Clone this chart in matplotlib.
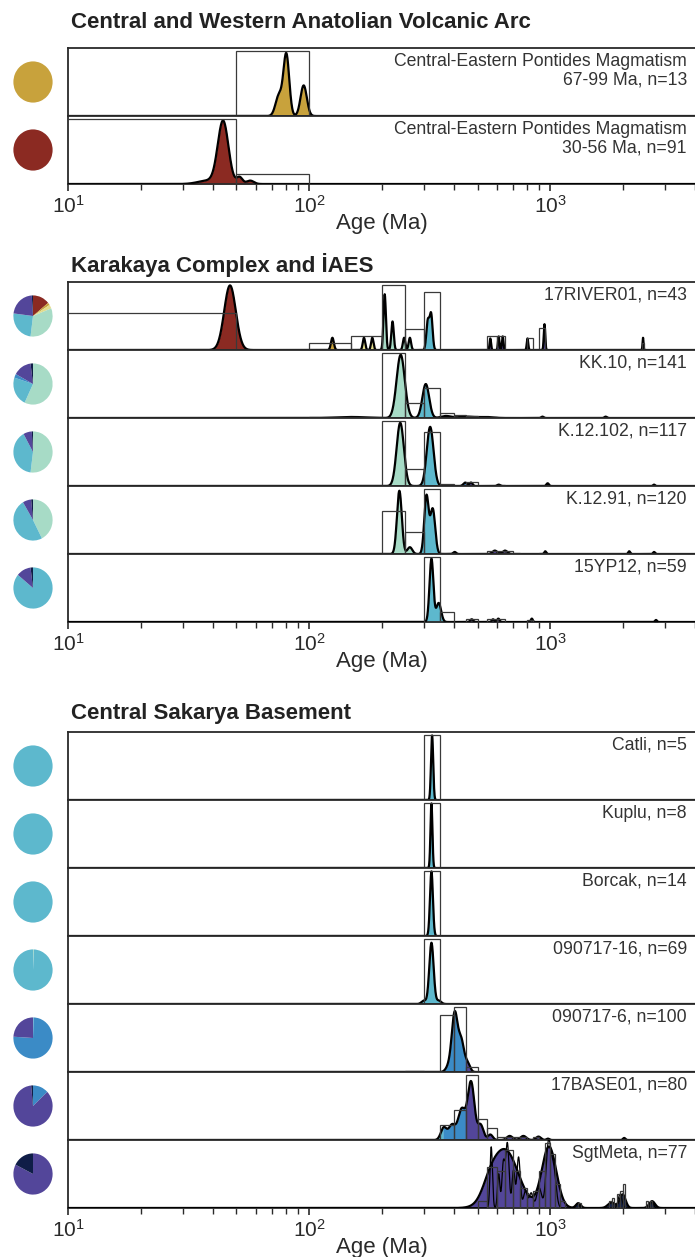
import numpy as np
import matplotlib.pyplot as plt
from matplotlib.ticker import LogLocator, NullFormatter

plt.rcParams['font.family'] = ['Liberation Sans', 'DejaVu Sans']
plt.rcParams['mathtext.default'] = 'regular'

W, H = 695, 1257
X_MAX = 4000

# --- groups ---
group_titles = ['Central and Western Anatolian Volcanic Arc',
                'Karakaya Complex and İAES',
                'Central Sakarya Basement']
group_sizes = [2, 5, 7]

# --- samples (top to bottom) ---
labels = ['Central-Eastern Pontides Magmatism\n67-99 Ma, n=13',
          'Central-Eastern Pontides Magmatism\n30-56 Ma, n=91',
          '17RIVER01, n=43', 'KK.10, n=141', 'K.12.102, n=117', 'K.12.91, n=120', '15YP12, n=59',
          'Catli, n=5', 'Kuplu, n=8', 'Borcak, n=14', '090717-16, n=69', '090717-6, n=100',
          '17BASE01, n=80', 'SgtMeta, n=77']

# age bands used for colouring the density curves and pies
band_edges = [0, 60, 150, 200, 280, 360, 445, 1200, 10000]
band_colors = ['#8B2A22', '#C8A23C', '#E2DC8C', '#A7DBC6', '#5DB8CD', '#3B8BC6', '#53469A', '#0F1D47']

# pie fractions (%) per band
pie_fracs = [
    [0, 100, 0, 0, 0, 0, 0, 0],
    [100, 0, 0, 0, 0, 0, 0, 0],
    [14, 2, 3, 33, 25, 0, 22, 1],
    [0, 0, 0, 57, 23, 3, 15, 2],
    [0, 0, 0, 52, 40, 0, 7, 1],
    [0, 0, 0, 42.5, 49, 0, 7, 1.5],
    [0, 0, 0, 0, 86, 0, 12, 2],
    [0, 0, 0, 0, 100, 0, 0, 0],
    [0, 0, 0, 0, 100, 0, 0, 0],
    [0, 0, 0, 0, 100, 0, 0, 0],
    [0, 0, 0, 0.7, 99.3, 0, 0, 0],
    [0, 0, 0, 0, 0.5, 75.5, 24, 0],
    [0, 0, 0, 0, 0, 13, 85.5, 1.5],
    [0, 0, 0, 0, 0, 0, 82.5, 17.5],
]

# KDE peaks: age (Ma), relative height, width (log10 units)
peak_ages = [
    [75, 80.5, 95],
    [38, 44, 51.5, 57],
    [47, 125, 169, 183, 206, 222, 248, 262, 311, 321, 565, 612, 636, 806, 948, 2430],
    [150, 240, 305, 370, 450, 540, 930, 1700],
    [239, 318, 445, 470, 612, 977, 2700],
    [237, 262, 307, 326, 402, 590, 650, 955, 2130, 2700],
    [322, 345, 473, 580, 610, 840, 2750],
    [324],
    [322],
    [322],
    [300, 322, 345],
    [380, 402, 428, 455],
    [362, 392, 430, 470, 515, 565, 680, 775, 895, 980, 2030],
    [560, 650, 990, 1310, 1800, 2000, 2650],
]
peak_heights = [
    [0.3, 0.9, 0.45],
    [0.05, 0.92, 0.1, 0.05],
    [0.95, 0.18, 0.18, 0.18, 0.82, 0.42, 0.18, 0.18, 0.42, 0.52, 0.17, 0.2, 0.2, 0.17, 0.38, 0.18],
    [0.015, 0.93, 0.5, 0.03, 0.02, 0.015, 0.02, 0.02],
    [0.93, 0.87, 0.05, 0.05, 0.02, 0.04, 0.02],
    [0.93, 0.1, 0.85, 0.66, 0.03, 0.05, 0.05, 0.04, 0.04, 0.03],
    [0.93, 0.28, 0.04, 0.04, 0.05, 0.05, 0.03],
    [0.95],
    [0.95],
    [0.95],
    [0.05, 0.9, 0.05],
    [0.08, 0.85, 0.45, 0.12],
    [0.18, 0.22, 0.45, 0.85, 0.22, 0.08, 0.06, 0.06, 0.05, 0.02, 0.03],
    [0.15, 0.85, 0.9, 0.07, 0.08, 0.2, 0.1],
]
peak_widths = [
    [0.014, 0.012, 0.013],
    [0.04, 0.022, 0.012, 0.015],
    [0.024, 0.006, 0.005, 0.005, 0.005, 0.005, 0.005, 0.005, 0.006, 0.006, 0.003, 0.003, 0.003, 0.003, 0.003, 0.002],
    [0.06, 0.017, 0.014, 0.02, 0.03, 0.03, 0.005, 0.005],
    [0.015, 0.014, 0.008, 0.006, 0.006, 0.005, 0.004],
    [0.01, 0.01, 0.009, 0.01, 0.006, 0.01, 0.01, 0.004, 0.004, 0.004],
    [0.008, 0.01, 0.006, 0.005, 0.005, 0.004, 0.004],
    [0.0045],
    [0.004],
    [0.006],
    [0.01, 0.009, 0.01],
    [0.012, 0.012, 0.012, 0.01],
    [0.012, 0.014, 0.015, 0.014, 0.012, 0.01, 0.012, 0.012, 0.01, 0.006, 0.005],
    [0.03, 0.055, 0.03, 0.01, 0.015, 0.012, 0.012],
]

# PDP (thin line) peaks, only where clearly visible
pdp_ages = [[], [], [], [], [], [], [], [], [], [], [], [], [],
            [570, 612, 640, 665, 705, 740, 790, 835, 900, 985, 1035, 1300, 1950, 2650]]
pdp_heights = [[], [], [], [], [], [], [], [], [], [], [], [], [],
               [0.9, 0.5, 0.65, 0.95, 0.55, 0.75, 0.25, 0.22, 0.3, 0.95, 0.55, 0.07, 0.2, 0.1]]
pdp_widths = [[], [], [], [], [], [], [], [], [], [], [], [], [],
              [0.005, 0.005, 0.006, 0.007, 0.006, 0.007, 0.008, 0.008, 0.01, 0.01, 0.01, 0.006, 0.008, 0.006]]

# histogram: left edge of 50 Ma bins and relative bar heights
hist_left = [
    [50],
    [0, 50],
    [0, 100, 150, 200, 250, 300, 550, 600, 800, 900, 2400],
    [100, 150, 200, 250, 300, 350, 400, 450, 500, 550, 900],
    [200, 250, 300, 350, 450, 600],
    [200, 250, 300, 350, 550, 600, 650, 700, 900, 2100],
    [300, 350, 450, 550, 600, 800],
    [300],
    [300],
    [300],
    [300],
    [250, 350, 400, 450],
    [350, 400, 450, 500, 550, 600, 650, 700, 750, 850, 2000],
    [500, 550, 600, 650, 700, 750, 800, 850, 900, 950, 1000, 1050, 1100, 1300, 1750, 1800, 1900, 1950, 2000, 2500, 2600],
]
hist_height = [
    [0.96],
    [0.96, 0.15],
    [0.54, 0.11, 0.21, 0.96, 0.31, 0.86, 0.2, 0.2, 0.17, 0.33, 0.1],
    [0.02, 0.02, 0.95, 0.22, 0.44, 0.07, 0.04, 0.03, 0.02, 0.02, 0.01],
    [0.96, 0.25, 0.79, 0.03, 0.06, 0.02],
    [0.63, 0.32, 0.95, 0.02, 0.04, 0.05, 0.05, 0.02, 0.02, 0.02],
    [0.96, 0.14, 0.05, 0.04, 0.05, 0.03],
    [0.96],
    [0.96],
    [0.96],
    [0.95],
    [0.01, 0.84, 0.96, 0.07],
    [0.22, 0.44, 0.95, 0.31, 0.18, 0.04, 0.04, 0.04, 0.04, 0.04, 0.02],
    [0.1, 0.6, 0.55, 0.85, 0.55, 0.3, 0.2, 0.25, 0.55, 0.95, 0.8, 0.35, 0.1, 0.07, 0.1, 0.15, 0.2, 0.25, 0.35, 0.1, 0.1],
]
BIN = 50

# --- layout (pixels) ---
group_top = [48, 282, 732]
title_y = [23, 265, 713]
PANEL_H = 68
AX_L, AX_R = 68, 695.2

fig = plt.figure(figsize=(W / 100, H / 100), dpi=100)


def axes_px(x0, y0, w, h):
    return fig.add_axes([x0 / W, 1 - (y0 + h) / H, w / W, h / H])


x = np.logspace(1, np.log10(X_MAX), 5000)
lx = np.log10(x)


def density(ages, heights, widths):
    y = np.zeros_like(lx)
    for a, h, s in zip(ages, heights, widths):
        y += h * np.exp(-0.5 * ((lx - np.log10(a)) / s) ** 2)
    return y


idx = 0
for g, (title, n) in enumerate(zip(group_titles, group_sizes)):
    fig.text(71 / W, 1 - title_y[g] / H, title, fontsize=16, fontweight='bold',
             color='#222222', ha='left', va='center')
    for k in range(n):
        top = group_top[g] + k * PANEL_H
        ax = axes_px(AX_L, top, AX_R - AX_L, PANEL_H)
        ax.set_xscale('log')
        ax.set_xlim(10, X_MAX)
        ax.set_ylim(0, 1)

        y = density(peak_ages[idx], peak_heights[idx], peak_widths[idx])
        for lo, hi, c in zip(band_edges[:-1], band_edges[1:], band_colors):
            m = (x >= lo * 0.998) & (x <= hi * 1.002)
            ax.fill_between(x, 0, y, where=m, color=c, lw=0, zorder=2)
        ax.plot(x, y, color='black', lw=1.6, zorder=3)
        if pdp_ages[idx]:
            yp = density(pdp_ages[idx], pdp_heights[idx], pdp_widths[idx])
            ax.plot(x, yp, color='black', lw=0.9, zorder=3)

        lefts = np.maximum(np.array(hist_left[idx], dtype=float), 1)
        rights = np.array(hist_left[idx], dtype=float) + BIN
        ax.bar(lefts, hist_height[idx], width=rights - lefts, align='edge', fill=False,
               edgecolor='#3a3a3a', lw=0.9, zorder=4)

        for s in ax.spines.values():
            s.set_linewidth(1.3)
            s.set_color('#2a2a2a')
        ax.spines['right'].set_visible(False)
        ax.set_yticks([])
        ax.xaxis.set_major_locator(LogLocator(base=10, numticks=10))
        ax.xaxis.set_minor_locator(LogLocator(base=10, subs=np.arange(2, 10), numticks=10))
        ax.xaxis.set_minor_formatter(NullFormatter())
        if k < n - 1:
            ax.tick_params(axis='x', which='both', bottom=False, labelbottom=False)
        else:
            ax.tick_params(axis='x', which='major', direction='out', length=5, width=1.2,
                           labelsize=15, colors='#2a2a2a', pad=3)
            ax.tick_params(axis='x', which='minor', direction='out', length=4, width=1.0,
                           colors='#2a2a2a')
            ax.set_xlabel('Age (Ma)', fontsize=16, color='#2a2a2a', labelpad=-3)

        fig.text(687 / W, 1 - (top + 5) / H, labels[idx], fontsize=12.7, color='#333333',
                 ha='right', va='top', multialignment='right', linespacing=1.1)

        # pie chart
        pax = axes_px(13, top + PANEL_H / 2 - 21, 40, 42)
        cols = [c for f, c in zip(pie_fracs[idx], band_colors)]
        pax.pie(pie_fracs[idx], colors=cols, startangle=90, counterclock=False,
                wedgeprops=dict(linewidth=0))
        pax.set_aspect('auto')
        pax.set_xlim(-1.02, 1.02)
        pax.set_ylim(-1.02, 1.02)
        pax.axis('off')
        idx += 1

fig.savefig('out.png', dpi=100)
